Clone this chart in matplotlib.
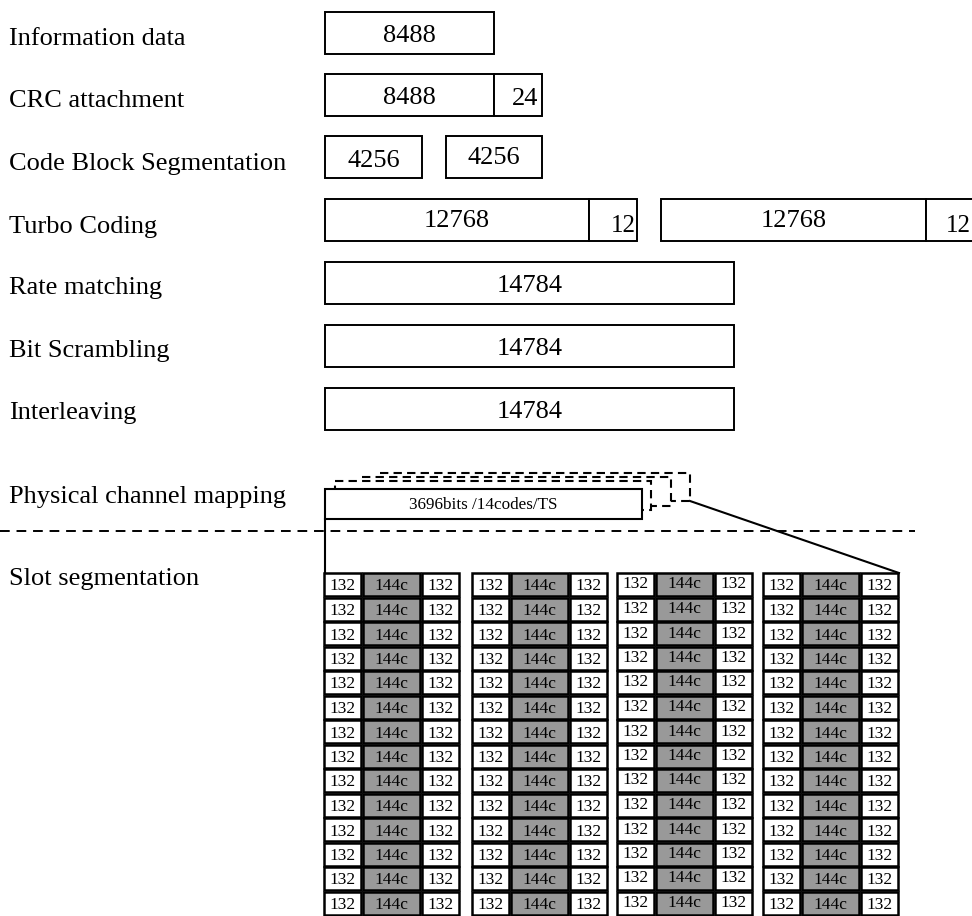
import matplotlib.pyplot as plt
from matplotlib.patches import Rectangle

# stage names and bit counts
stages = ['Information data', 'CRC attachment', 'Code Block Segmentation',
          'Turbo Coding', 'Rate matching', 'Bit Scrambling', 'Interleaving',
          'Physical channel mapping', 'Slot segmentation']
info_bits = ['8488']
crc_bits = ['8488', '24']
cb_bits = ['4256', '4256']
turbo_bits = ['12768', '12', '12768', '12']
rm_bits = ['14784']
phys_text = '3696bits /14codes/TS'
slot_cols = ['132', '144c', '132']
n_slots = 4
n_codes = 14

plt.rcParams['font.family'] = ['Liberation Serif', 'DejaVu Serif']

fig = plt.figure(figsize=(9.72, 9.16), dpi=100)
ax = fig.add_axes([0, 0, 1, 1])
ax.set_xlim(0, 972)
ax.set_ylim(916, 0)
ax.axis('off')


def box(x0, x1, y0, y1, fc='white', ls='-', lw=1.4, z=2):
    ax.add_patch(Rectangle((x0, y0), x1 - x0, y1 - y0, fc=fc, ec='black',
                           lw=lw, ls=ls, zorder=z))


# left labels
label_y = [45, 107, 170, 233, 294, 357, 419, 503, 585]
for name, y in zip(stages, label_y):
    ax.text(9, y, name, fontsize=19, va='baseline', ha='left')

# top rows of boxes
row_top = [12, 74, 136, 199, 262, 325, 388]
h = 42

def cells(row, edges, labels, sizes=None, xs=None, base=None):
    y0 = row_top[row]
    for i, lab in enumerate(labels):
        x0, x1 = edges[i]
        box(x0, x1, y0, y0 + h)
        fs = 19 if sizes is None else sizes[i]
        xc = (x0 + x1) / 2 if xs is None or xs[i] is None else xs[i]
        b = 30 if base is None else base[i]
        ax.text(xc, y0 + b, lab, fontsize=fs, ha='center', va='baseline', zorder=3)

cells(0, [(325, 494)], info_bits)
cells(1, [(325, 494), (494, 542)], crc_bits, xs=[None, 525], base=[30, 31])
cells(2, [(325, 422), (446, 542)], cb_bits, base=[31, 28])
cells(3, [(325, 589), (589, 637), (661, 926), (926, 990)], turbo_bits,
      sizes=[19, 18, 19, 18], xs=[None, 623, None, 958], base=[28, 33, 28, 33])
for r in (4, 5, 6):
    cells(r, [(325, 734)], rm_bits)

# physical channel mapping: stacked dashed boxes behind the solid one
dash = (0, (4, 2.5))
box(380, 690, 473, 501, ls=dash, lw=1.5, z=2)
box(362, 671, 477, 506, ls=dash, lw=1.5, z=3)
box(335, 651, 481, 510, ls=dash, lw=1.5, z=4)
box(325, 642, 489, 519, lw=1.5, z=5)
ax.text(483, 509, phys_text, fontsize=12.3, ha='center', va='baseline', zorder=6)

# separator and connecting lines
ax.plot([0, 915], [531, 531], color='black', lw=1.4, ls=(0, (5, 3.5)))
ax.plot([325, 325], [519, 573], color='black', lw=1.5)
ax.plot([690, 899], [501, 573], color='black', lw=1.5)

# slot segmentation grid
group_x = [324, 472, 617, 763]
text_dy = [0, 0, -2, 0]
col_w = [37, 57, 37]
col_fc = ['white', '#999999', 'white']
pitch = 24.5
for g in range(n_slots):
    for r in range(n_codes):
        y0 = 573 + r * pitch
        x = group_x[g]
        for c, lab in enumerate(slot_cols):
            box(x, x + col_w[c], y0, y0 + pitch - 1.5, fc=col_fc[c], lw=1.8)
            ax.text(x + col_w[c] / 2, y0 + 17.5 + text_dy[g], lab, fontsize=12.5,
                    ha='center', va='baseline', zorder=3)
            x += col_w[c] + 2

fig.savefig('out.png', dpi=100)
